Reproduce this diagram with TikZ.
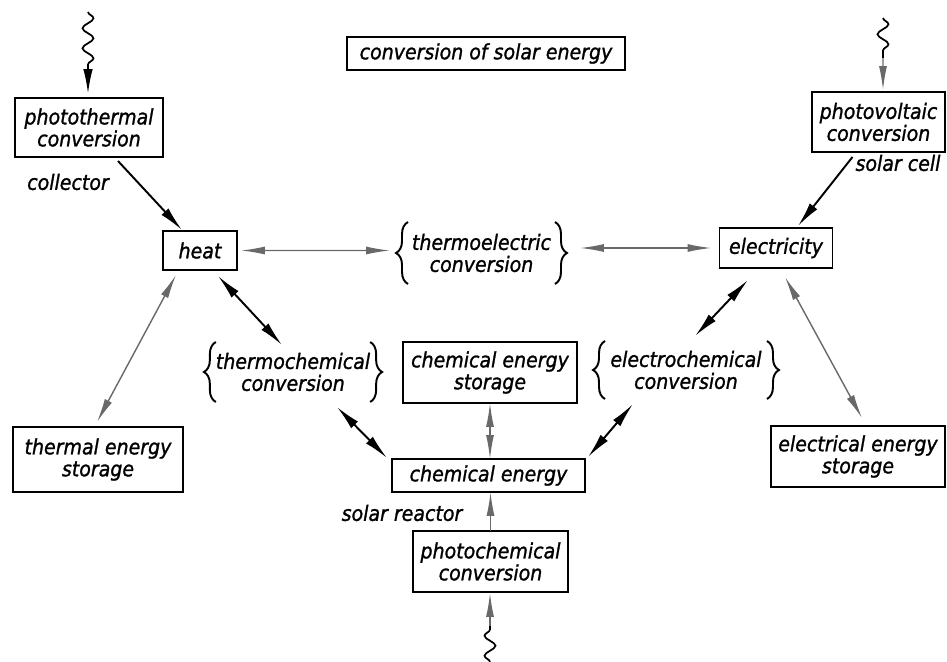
\documentclass[tikz,border=0pt]{standalone}
\usepackage{fontspec}
\newfontfamily\lett{DejaVu Sans}[FakeStretch=0.9,FakeBold=1.2]
\usetikzlibrary{arrows.meta,decorations.pathmorphing,decorations.pathreplacing,calc}
\definecolor{agray}{RGB}{105,105,105}
\begin{document}
\begin{tikzpicture}[x=0.02cm,y=-0.02cm,
  txt/.style={inner sep=0pt, outer sep=0pt, align=center, font=\lett\itshape\fontsize{12}{12.5}\selectfont},
  box/.style={txt, draw, line width=1.1pt},
  brnode/.style={txt},
  brc/.style={decorate, decoration={brace, amplitude=0.24cm}, line width=1.1pt},
  barrow/.style={line width=1.1pt, -{Latex[length=0.5cm,width=0.19cm]}},
  bdarrow/.style={line width=1.1pt, {Latex[length=0.5cm,width=0.19cm]}-{Latex[length=0.5cm,width=0.19cm]}},
  garrow/.style={line width=0.8pt, draw=agray, -{Latex[length=0.48cm,width=0.16cm]}},
  gdarrow/.style={line width=0.8pt, draw=agray, {Latex[length=0.48cm,width=0.16cm]}-{Latex[length=0.48cm,width=0.16cm]}},
  wave/.style={decorate, decoration={snake, amplitude=0.11cm, segment length=0.4cm}, line width=1pt}
]
\useasboundingbox (0,0) rectangle (947,662);

% nodes
\node[box, minimum width=5.56cm, minimum height=0.66cm] (title) at (486,53.5) {conversion of solar energy};
\node[box, minimum width=2.96cm, minimum height=1.18cm] (pt) at (89,127.5) {photothermal\\conversion};
\node[box, minimum width=2.66cm, minimum height=1.2cm] (pv) at (878.5,122) {photovoltaic\\conversion};
\node[box, minimum width=1.48cm, minimum height=0.78cm] (heat) at (200,250.5) {heat};
\node[box, minimum width=2.26cm, minimum height=0.8cm] (elec) at (776,248) {electricity};
\node[brnode, minimum width=2.94cm, minimum height=1.24cm] (te) at (481.5,253) {thermoelectric\\conversion};
\node[brnode, minimum width=2.84cm, minimum height=1.2cm] (tc) at (293,372) {thermochemical\\conversion};
\node[brnode, minimum width=3.24cm, minimum height=1.16cm] (ec) at (686,370) {electrochemical\\conversion};
\node[box, minimum width=3.48cm, minimum height=1.22cm] (ces) at (490,372.5) {chemical energy\\storage};
\node[box, minimum width=3.4cm, minimum height=1.3cm] (tes) at (98,459.5) {thermal energy\\storage};
\node[box, minimum width=3.48cm, minimum height=1.22cm] (ees) at (858,456.5) {electrical energy\\storage};
\node[box, minimum width=3.86cm, minimum height=0.66cm] (ce) at (488.5,475.5) {chemical energy};
\node[box, minimum width=3.1cm, minimum height=1.22cm] (pc) at (490.5,561.5) {photochemical\\conversion};

% labels
\node[txt] (lcol) at (68,182) {collector};
\node[txt] (lsc) at (898,163) {solar cell};
\node[txt] (lsr) at (402,513) {solar reactor};

% braces
\foreach \n in {te,tc,ec}{
  \draw[brc] (\n.south west) -- (\n.north west);
  \draw[brc] (\n.north east) -- (\n.south east);
}

% wavy radiation arrows
\coordinate (w1) at (88,12);
\coordinate (w1e) at (88,66);
\draw[wave] (w1) -- (w1e);
\draw[barrow] (w1e) -- ([shift={(-1,-4)}]pt.north);

\coordinate (w2) at (883,18);
\coordinate (w2e) at (883,58);
\draw[wave] (w2) -- (w2e);
\draw[garrow] (w2e) -- ([shift={(4.5,-2)}]pv.north);

\coordinate (w3) at (490,662);
\coordinate (w3e) at (490,626);
\draw[wave] (w3) -- (w3e);
\draw[garrow] (w3e) -- ([shift={(-0.5,1)}]pc.south);

% connectors
\draw[barrow] ([shift={(29,4)}]pt.south) -- ([shift={(-18,-1)}]heat.north);
\draw[barrow] ([shift={(-26,5)}]pv.south) -- ([shift={(22,-2)}]elec.north);
\draw[gdarrow] ([shift={(4,0)}]heat.east) -- ([shift={(-18,-2.5)}]te.west);
\draw[gdarrow] ([shift={(25,-5)}]te.east) -- ([shift={(-8,0)}]elec.west);
\draw[bdarrow] ([shift={(18,6)}]heat.south) -- ([shift={(-11,3)}]tc.north);
\draw[gdarrow] ([shift={(-24,5)}]heat.south) -- ([shift={(-1,-5)}]tes.north);
\draw[bdarrow] ([shift={(-28,12)}]elec.south) -- ([shift={(9,-5)}]ec.north);
\draw[gdarrow] ([shift={(9,9)}]elec.south) -- ([shift={(4,-8)}]ees.north);
\draw[bdarrow] ([shift={(44,5)}]tc.south) -- ([shift={(-5,-1)}]ce.north west);
\draw[bdarrow] ([shift={(-53,5)}]ec.south) -- ([shift={(3,-2)}]ce.north east);
\draw[gdarrow] (ces.south) -- (ces.south |- ce.north);
\draw[garrow] (pc.north) -- (pc.north |- ce.south);
\end{tikzpicture}
\end{document}
